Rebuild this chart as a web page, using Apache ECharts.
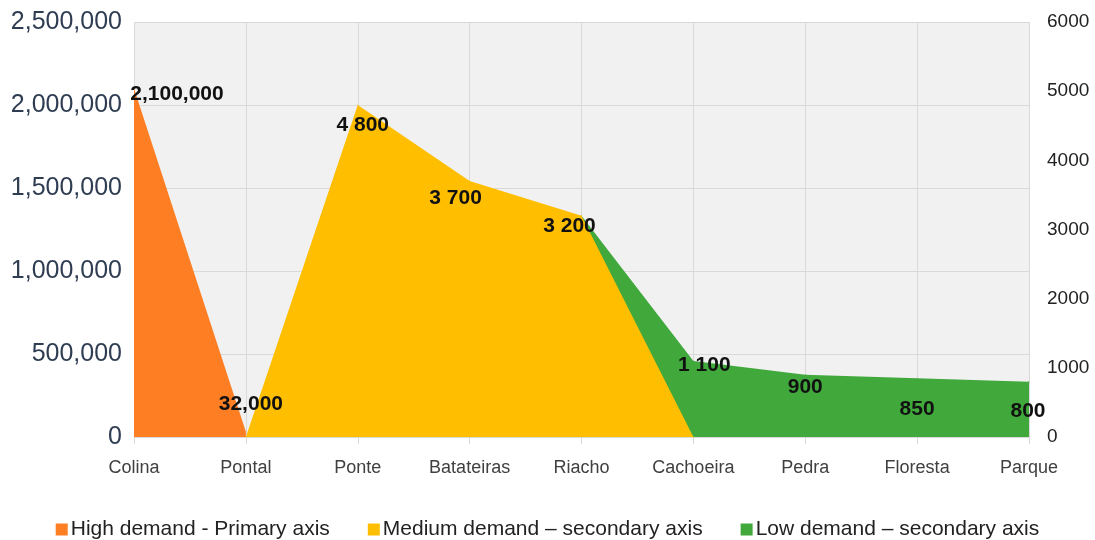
<!DOCTYPE html>
<html>
<head>
    <meta charset="utf-8"/>
    <title>Demand</title>
    <script src="https://cdn.jsdelivr.net/npm/echarts@6/dist/echarts.min.js"></script>
</head>
<body style="margin:0">
<div id="main" style="width: 1095px; height: 540px"></div>
<script type="text/javascript">
    // data
    var places = ['Colina', 'Pontal', 'Ponte', 'Batateiras', 'Riacho', 'Cachoeira', 'Pedra', 'Floresta', 'Parque'];
    var highDemand = [2100000, 32000, null, null, null, null, null, null, null];
    var mediumDemand = [null, 0, 4800, 3700, 3200, 0, null, null, null];
    var lowDemand = [null, null, null, null, 3200, 1100, 900, 850, 800];
    var seriesNames = ['High demand - Primary axis', 'Medium demand \u2013 secondary axis', 'Low demand \u2013 secondary axis'];

    // label placement (style only), [dx, dy], null = no label
    var highOffsets = [[43, 17], [5, -16]];
    var mediumOffsets = [null, null, [5, 31], [-14, 28], [-12, 22], null];
    var lowOffsets = [null, null, null, null, null, [11, 15], [0, 23], [0, 42], [-1, 41]];

    function commas(v) {
        return String(v).replace(/\B(?=(\d{3})+(?!\d))/g, ',');
    }
    function spaces(v) {
        return String(v).replace(/\B(?=(\d{3})+(?!\d))/g, ' ');
    }

    function withLabels(values, offsets, fmt) {
        return values.map(function (v, i) {
            var off = offsets[i];
            if (v === null) return null;
            return {
                value: v,
                label: off ? {show: true, position: 'top', distance: 0, offset: off, formatter: function () { return fmt(v); }} : {show: false}
            };
        });
    }

    var labelStyle = {color: '#111', fontWeight: 'bold', fontSize: 21, fontFamily: 'Liberation Sans'};

    var myChart = echarts.init(document.getElementById('main'));
    var option = {
        textStyle: {fontFamily: 'Liberation Sans'},
        grid: {left: 134, right: 66, top: 22, bottom: 103, show: true, backgroundColor: '#f1f1f1', borderWidth: 0},
        legend: {
            bottom: 0,
            padding: 0,
            left: 'center',
            itemWidth: 12,
            itemHeight: 12,
            itemGap: 38,
            icon: 'rect',
            textStyle: {fontSize: 21, color: '#222', padding: [0, 0, 0, -2]},
            data: seriesNames
        },
        xAxis: {
            type: 'category',
            data: places,
            boundaryGap: false,
            axisLine: {lineStyle: {color: '#d9d9d9'}},
            axisTick: {show: true, length: 7, lineStyle: {color: '#d9d9d9'}},
            axisLabel: {fontSize: 18, color: '#404040', margin: 22},
            splitLine: {show: true, lineStyle: {color: '#d9d9d9'}}
        },
        yAxis: [
            {
                type: 'value',
                min: 0,
                max: 2500000,
                interval: 500000,
                axisLabel: {fontSize: 25, color: '#2f3d52', margin: 12, formatter: commas},
                splitLine: {lineStyle: {color: '#d9d9d9'}},
                axisLine: {show: false},
                axisTick: {show: false}
            },
            {
                type: 'value',
                min: 0,
                max: 6000,
                interval: 1000,
                axisLabel: {fontSize: 19, color: '#222', margin: 18, formatter: function (v) { return String(v); }},
                splitLine: {show: false},
                axisLine: {show: false},
                axisTick: {show: false}
            }
        ],
        series: [
            {
                name: seriesNames[2],
                type: 'line',
                yAxisIndex: 1,
                data: withLabels(lowDemand, lowOffsets, spaces),
                symbol: 'circle',
                symbolSize: 1,
                lineStyle: {width: 0},
                itemStyle: {color: '#41a83c'},
                areaStyle: {color: '#41a83c', opacity: 1},
                label: labelStyle,
                z: 2
            },
            {
                name: seriesNames[1],
                type: 'line',
                yAxisIndex: 1,
                data: withLabels(mediumDemand, mediumOffsets, spaces),
                symbol: 'circle',
                symbolSize: 1,
                lineStyle: {width: 0},
                itemStyle: {color: '#ffbf00'},
                areaStyle: {color: '#ffbf00', opacity: 1},
                label: labelStyle,
                z: 3
            },
            {
                name: seriesNames[0],
                type: 'line',
                yAxisIndex: 0,
                data: withLabels(highDemand, highOffsets, commas),
                symbol: 'circle',
                symbolSize: 1,
                lineStyle: {width: 0},
                itemStyle: {color: '#fd7e23'},
                areaStyle: {color: '#fd7e23', opacity: 1},
                label: labelStyle,
                z: 4
            }
        ]
    };
    myChart.setOption(option);
</script>
</body>
</html>
